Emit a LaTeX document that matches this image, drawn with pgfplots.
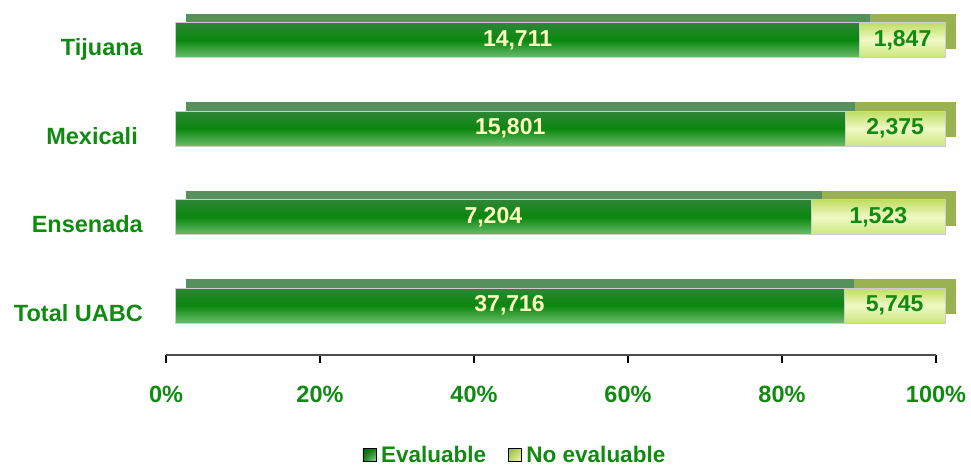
\documentclass[border=0pt]{standalone}
\usepackage{fontspec}
\setmainfont{Liberation Sans}
\usepackage{pgfplots}
\usepackage{pgfplotstable}
\usetikzlibrary{shadings}
\pgfplotsset{compat=1.18}
\definecolor{lblgreen}{HTML}{118A11}
\definecolor{dkTop}{HTML}{2E8636}
\definecolor{dkMid}{HTML}{0A870E}
\definecolor{dkBot}{HTML}{6ABD6C}
\definecolor{ltTop}{HTML}{BFDD62}
\definecolor{ltMid}{HTML}{EFF9C4}
\definecolor{ltBot}{HTML}{CDE67E}
\definecolor{dkBack}{HTML}{55905D}
\definecolor{ltBack}{HTML}{9AB150}
\definecolor{yel}{HTML}{FFFFC0}

\pgfplotstableread{
y eval noeval
3 14711 1847
2 15801 2375
1 7204 1523
0 37716 5745
}\datatable

\begin{document}
\begin{tikzpicture}
\begin{axis}[
  scale only axis, width=770pt, height=355pt,
  xmin=0, xmax=100, ymin=-0.559, ymax=3.452,
  clip=false,
  axis lines*=left,
  y axis line style={draw=none},
  x axis line style={line width=2.5pt, black!70},
  ytick={0,1,2,3},
  yticklabels={Total UABC, Ensenada, Mexicali\rule{5pt}{0pt}, Tijuana},
  ytick style={draw=none},
  xtick={0,20,40,60,80,100},
  xticklabels={0\%,20\%,40\%,60\%,80\%,100\%},
  tick align=outside, major tick length=8pt,
  xtick style={line width=1.5pt, black},
  /pgf/number format/assume math mode=true,
  tick label style={font=\fontsize{23.5}{27}\selectfont\bfseries, text=lblgreen},
  xticklabel style={anchor=north, inner sep=0pt, text height=17pt, text depth=0pt, yshift=-22pt},
  yticklabel style={anchor=east, inner sep=0pt, text height=17pt, text depth=0pt, yshift=-7pt, xshift=-15pt},
  legend style={at={(0.4532,-0.2817)}, anchor=center, draw=none, fill=none,
    legend columns=2, font=\fontsize{22.5}{26}\selectfont\bfseries, text=lblgreen,
    /tikz/every odd column/.append style={column sep=3pt},
    /tikz/every even column/.append style={column sep=20pt}},
  legend cell align=left,
]
\pgfplotsinvokeforeach{0,1,2,3}{
% back (3D depth)
\addplot[forget plot, xbar, bar shift=0pt, bar width=35pt, xshift=20pt, yshift=9pt,
  fill=ltBack, draw=none, restrict y to domain=#1:#1] table[x expr=100, y=y] {\datatable};
\addplot[forget plot, xbar, bar shift=0pt, bar width=35pt, xshift=20pt, yshift=9pt,
  fill=dkBack, draw=none, restrict y to domain=#1:#1] table[x expr={\thisrow{eval}/(\thisrow{eval}+\thisrow{noeval})*100}, y=y] {\datatable};
% front faces
\addplot[forget plot, xbar, bar shift=0pt, bar width=35pt, xshift=9.5pt,
  top color=ltTop, bottom color=ltBot, middle color=ltMid, draw=black!20, restrict y to domain=#1:#1] table[x expr=100, y=y] {\datatable};
\addplot[forget plot, xbar, bar shift=0pt, bar width=35pt, xshift=9.5pt,
  top color=dkTop, bottom color=dkBot, middle color=dkMid, draw=black!20, restrict y to domain=#1:#1] table[x expr={\thisrow{eval}/(\thisrow{eval}+\thisrow{noeval})*100}, y=y] {\datatable};
}
% labels
\addplot[forget plot, only marks, mark=none, xshift=9.5pt, point meta=explicit,
  nodes near coords={\pgfmathprintnumber[1000 sep={,}, fixed, precision=0]{\pgfplotspointmeta}},
  every node near coord/.append style={anchor=center, text=yel, font=\fontsize{23}{27}\selectfont\bfseries}]
  table[x expr={\thisrow{eval}/(\thisrow{eval}+\thisrow{noeval})*50}, y=y, meta=eval] {\datatable};
\addplot[forget plot, only marks, mark=none, xshift=9.5pt, point meta=explicit,
  nodes near coords={\pgfmathprintnumber[1000 sep={,}, fixed, precision=0]{\pgfplotspointmeta}},
  every node near coord/.append style={anchor=center, text=lblgreen, font=\fontsize{23}{27}\selectfont\bfseries}]
  table[x expr={50+\thisrow{eval}/(\thisrow{eval}+\thisrow{noeval})*50}, y=y, meta=noeval] {\datatable};
\addlegendimage{legend image code/.code={\shade[upper left=dkMid!70!black, lower right=dkBot!60!white, upper right=dkMid, lower left=dkMid] (0pt,-6.5pt) rectangle (13pt,6.5pt);}}
\addlegendentry{Evaluable}
\addlegendimage{legend image code/.code={\shade[upper left=ltTop!80!black, lower right=ltMid, upper right=ltTop, lower left=ltTop] (0pt,-6.5pt) rectangle (13pt,6.5pt);}}
\addlegendentry{No evaluable}
\end{axis}
\pgfresetboundingbox
\useasboundingbox (-166pt,-111pt) rectangle (805pt,355pt);
\end{tikzpicture}
\end{document}
